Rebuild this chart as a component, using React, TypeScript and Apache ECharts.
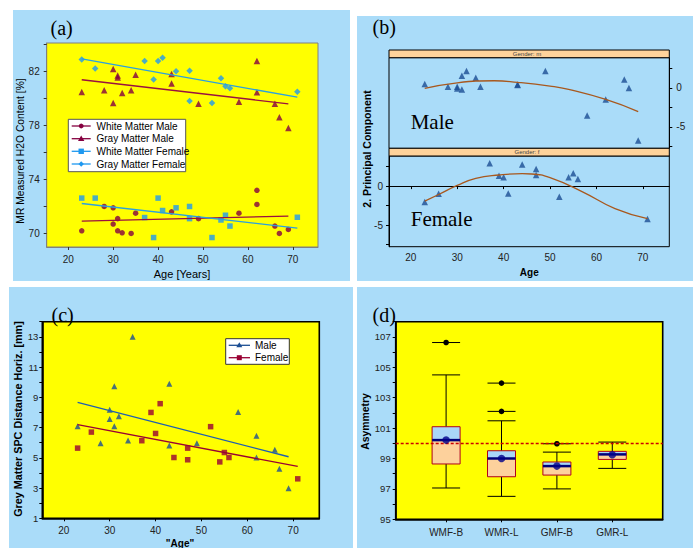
import React, { useEffect, useRef } from "react";
import * as echarts from "echarts";

// ---------- Panel (a): MR measured H2O content ----------
const wmMaleAge = [23, 28, 30, 30, 31, 31, 32, 34, 35, 43, 49, 58, 62, 62, 66, 67, 69];
const wmMaleVal = [70.2, 72.0, 71.9, 70.7, 71.1, 70.2, 70.05, 70.0, 71.5, 71.6, 71.1, 71.5, 73.2, 72.15, 70.55, 70.0, 70.3];
const gmMaleAge = [23, 28, 30, 30, 31, 31, 32, 34, 35, 43, 43, 49, 58, 62, 62, 66, 67, 69];
const gmMaleVal = [80.47, 80.6, 82.17, 79.65, 81.7, 81.55, 80.4, 80.6, 81.75, 81.8, 81.1, 79.6, 79.75, 82.77, 80.45, 79.6, 78.6, 77.8];
const wmFemaleAge = [23, 26, 37, 39, 40, 41, 44, 47, 47, 52, 54, 55, 56, 71];
const wmFemaleVal = [72.62, 72.62, 71.18, 69.7, 72.62, 71.7, 71.9, 72.0, 71.1, 69.7, 71.0, 71.35, 70.55, 71.2];
const gmFemaleAge = [23, 26, 37, 39, 40, 41, 44, 47, 47, 52, 54, 55, 56, 71];
const gmFemaleVal = [82.87, 82.22, 82.77, 81.4, 82.77, 83.0, 82.0, 82.05, 79.8, 79.65, 81.5, 80.9, 80.75, 80.5];
// regression lines (end points)
const wmMaleFitX = [23, 69];
const wmMaleFitY = [70.92, 71.29];
const gmMaleFitX = [23, 69];
const gmMaleFitY = [81.38, 79.6];
const wmFemaleFitX = [23, 71];
const wmFemaleFitY = [72.22, 70.4];
const gmFemaleFitX = [23, 71];
const gmFemaleFitY = [82.92, 80.09];
const aYLabels = [70, 74, 78, 82];
const aYTicks = [70, 72, 74, 76, 78, 80, 82, 84];
const ageTicks = [20, 30, 40, 50, 60, 70];
const aLegend = ["White Matter Male", "Gray Matter Male", "White Matter Female", "Gray Matter Female"];

// ---------- Panel (b): 2. principal component ----------
const pcMaleAge = [23, 28, 30, 30, 31, 31, 32, 34, 35, 43, 43, 49, 58, 62, 66, 67, 69];
const pcMaleVal = [0.47, 0.13, 0.13, -0.09, 1.55, -0.21, 2.15, 1.29, 0.13, 0.43, 0.34, 2.15, -3.56, -1.5, 1.07, -0.04, -6.74];
const pcFemaleAge = [23, 26, 37, 39, 40, 41, 44, 47, 47, 52, 54, 55, 56, 71];
const pcFemaleVal = [-2.02, -0.99, 2.92, 1.33, 1.12, -0.95, 2.75, 2.19, 1.42, -1.37, 1.12, 1.63, 0.9, -4.21];
const pcMaleCurveX = [23, 30, 38, 43, 50, 54, 62, 69];
const pcMaleCurveY = [-0.09, 0.64, 0.9, 0.69, 0.21, -0.21, -1.5, -3.05];
const pcFemaleCurveX = [23, 26, 30, 34, 39, 44, 46, 50, 57, 64, 71];
const pcFemaleCurveY = [-1.93, -1.07, 0.09, 0.99, 1.42, 1.59, 1.55, 1.07, -0.73, -2.88, -4.17];
const bYLabels = [-5, 0];
const bYTicks = [-7.5, -5, -2.5, 0, 2.5];
const bStrips = ["Gender: m", "Gender: f"];
const bFacetNames = ["Male", "Female"];

// ---------- Panel (c): grey matter SPC distance ----------
const spcMaleAge = [23, 28, 30, 30, 31, 31, 32, 34, 35, 43, 43, 49, 58, 62, 62, 66, 67, 69];
const spcMaleVal = [7.08, 5.97, 8.18, 7.56, 9.73, 7.08, 7.74, 6.15, 13.0, 9.9, 5.82, 5.97, 8.03, 6.46, 5.02, 5.53, 4.27, 2.99];
const spcFemaleAge = [23, 26, 37, 39, 40, 41, 44, 47, 47, 52, 54, 55, 56, 71];
const spcFemaleVal = [5.64, 6.7, 6.13, 8.0, 6.61, 8.58, 5.02, 5.64, 4.87, 7.06, 4.73, 5.35, 5.02, 3.61];
const spcMaleFitX = [23, 69];
const spcMaleFitY = [8.67, 5.07];
const spcFemaleFitX = [23, 71];
const spcFemaleFitY = [7.19, 4.43];
const cYLabels = [1, 3, 5, 7, 9, 11, 13];
const cYTicks = [1, 2, 3, 4, 5, 6, 7, 8, 9, 10, 11, 12, 13, 14];
const cLegend = ["Male", "Female"];

// ---------- Panel (d): asymmetry box plots ----------
const boxCats = ["WMF-B", "WMR-L", "GMF-B", "GMR-L"];
const whiskerLow = [97.06, 96.51, 97.0, 98.35];
const quart1 = [98.64, 97.8, 97.91, 98.94];
const medians = [100.21, 99.0, 98.5, 99.27];
const quart3 = [101.09, 99.51, 98.77, 99.47];
const whiskerHigh = [104.5, 101.48, 99.42, 100.08];
const means = [100.21, 99.0, 98.5, 99.25];
const outlierCat = [0, 1, 1, 2];
const outlierVal = [106.63, 103.96, 102.1, 99.97];
const refValue = 100;
const dYLabels = [95, 97, 99, 101, 103, 105, 107];
const dYTicks = [95, 96, 97, 98, 99, 100, 101, 102, 103, 104, 105, 106, 107, 108];

const SANS = "Liberation Sans, Arial, sans-serif";
const SERIF = "Liberation Serif, Times New Roman, serif";
const PANEL_BG = "#aadcf9";
const MAROON = "#850040";
const LBLUE = "#1e98f0";
const NAVY = "#1c4e93";

const zip = (xs: number[], ys: number[]) => xs.map((x, i) => [x, ys[i]]);

function marker(kind: string, cx: number, cy: number, color: string, s = 3) {
  if (kind === "circle") return { type: "circle", shape: { cx, cy, r: s - 0.3 }, style: { fill: color }, z: 101 };
  if (kind === "rect") return { type: "rect", shape: { x: cx - s, y: cy - s, width: 2 * s, height: 2 * s }, style: { fill: color }, z: 101 };
  if (kind === "triangle")
    return { type: "polygon", shape: { points: [[cx, cy - s - 0.5], [cx - s - 0.5, cy + s - 0.5], [cx + s + 0.5, cy + s - 0.5]] }, style: { fill: color }, z: 101 };
  return { type: "polygon", shape: { points: [[cx, cy - s], [cx + s, cy], [cx, cy + s], [cx - s, cy]] }, style: { fill: color }, z: 101 };
}

function txt(text: string, x: number, y: number, size: number, opts: any = {}) {
  return {
    type: "text",
    x,
    y,
    rotation: opts.rotation || 0,
    z: 100,
    style: {
      text,
      fontSize: size,
      fontFamily: opts.family || SANS,
      fontWeight: opts.weight || "normal",
      fill: opts.color || "#000",
      align: opts.align || "center",
      verticalAlign: "middle",
    },
  };
}

function valueAxis(gridIndex: number, min: number, max: number, labels: number[], ticks: number[], extra: any = {}) {
  return {
    type: "value",
    gridIndex,
    min,
    max,
    splitLine: { show: false },
    axisLine: { show: true, lineStyle: { color: extra.lineColor || "#000", width: extra.lineWidth || 1 } },
    axisTick: { show: true, customValues: ticks, length: extra.tickLen || 3, lineStyle: { color: extra.tickColor || "#000" } },
    axisLabel: {
      show: true,
      customValues: labels,
      fontSize: extra.fontSize || 10,
      fontFamily: SANS,
      color: "#222",
      margin: extra.margin || 5,
      formatter: extra.formatter,
    },
    position: extra.position,
    show: extra.show === undefined ? true : extra.show,
  };
}

function buildOption() {
  const legendA: any[] = [
    { type: "rect", shape: { x: 68.3, y: 119.3, width: 117.4, height: 52.4 }, style: { fill: "#fff", stroke: "#555", lineWidth: 1 }, z: 99 },
  ];
  const aKinds = ["circle", "triangle", "rect", "diamond"];
  const aColors = [MAROON, MAROON, LBLUE, LBLUE];
  const aRows = [126, 138.7, 151.3, 164];
  aLegend.forEach((name, i) => {
    legendA.push({ type: "line", shape: { x1: 71.7, y1: aRows[i], x2: 90.7, y2: aRows[i] }, style: { stroke: aColors[i], lineWidth: 1.3 }, z: 100 });
    legendA.push(marker(aKinds[i], 81.2, aRows[i], aColors[i], 2.7));
    legendA.push(txt(name, 96.5, aRows[i], 10, { align: "left" }));
  });

  const legendC: any[] = [
    { type: "rect", shape: { x: 225.7, y: 338.7, width: 63.6, height: 25.6 }, style: { fill: "#fff", stroke: "#333", lineWidth: 1 }, z: 99 },
  ];
  const cRows = [345.3, 357.7];
  const cColors = [NAVY, "#990033"];
  const cKinds = ["triangle", "rect"];
  cLegend.forEach((name, i) => {
    legendC.push({ type: "line", shape: { x1: 228.7, y1: cRows[i], x2: 250, y2: cRows[i] }, style: { stroke: cColors[i], lineWidth: 1.3 }, z: 100 });
    legendC.push(marker(cKinds[i], 239.3, cRows[i], cColors[i], 2.5));
    legendC.push(txt(name, 255, cRows[i], 10, { align: "left" }));
  });

  const graphic: any[] = [
    { type: "rect", shape: { x: 13, y: 10, width: 337, height: 271 }, style: { fill: PANEL_BG }, z: -10 },
    { type: "rect", shape: { x: 357, y: 16, width: 336, height: 265 }, style: { fill: PANEL_BG }, z: -10 },
    { type: "rect", shape: { x: 9, y: 287, width: 344, height: 261 }, style: { fill: PANEL_BG }, z: -10 },
    { type: "rect", shape: { x: 357, y: 287, width: 336, height: 261 }, style: { fill: PANEL_BG }, z: -10 },
    // panel letters
    txt("(a)", 50.5, 28, 20, { family: SERIF, align: "left" }),
    txt("(b)", 372.5, 27, 20, { family: SERIF, align: "left" }),
    txt("(c)", 51.5, 315, 20, { family: SERIF, align: "left" }),
    txt("(d)", 372.5, 315, 20, { family: SERIF, align: "left" }),
    // axis titles
    txt("MR Measured H2O Content [%]", 20, 151, 10.3, { rotation: Math.PI / 2 }),
    txt("Age [Years]", 182, 274, 11),
    txt("2. Principal Component", 366.5, 149, 10.5, { rotation: Math.PI / 2, weight: "bold" }),
    txt("Age", 529.3, 272.7, 10, { weight: "bold" }),
    txt("Grey Matter SPC Distance Horiz. [mm]", 17.5, 419, 10.8, { rotation: Math.PI / 2, weight: "bold" }),
    txt('"Age"', 180, 543.5, 10, { weight: "bold" }),
    txt("Asymmetry", 365, 421.5, 10.4, { rotation: Math.PI / 2, weight: "bold" }),
    // strips in (b)
    { type: "rect", shape: { x: 389, y: 50, width: 280.3, height: 7.7 }, style: { fill: "#ffd39b", stroke: "#000", lineWidth: 1 }, z: 50 },
    { type: "rect", shape: { x: 389, y: 148.3, width: 280.3, height: 7.7 }, style: { fill: "#ffd39b", stroke: "#000", lineWidth: 1 }, z: 50 },
    txt(bStrips[0], 527, 54, 6, { color: "#444" }),
    txt(bStrips[1], 527, 152.3, 6, { color: "#444" }),
    txt(bFacetNames[0], 410.7, 122.3, 21, { family: SERIF, align: "left" }),
    txt(bFacetNames[1], 410.7, 218.7, 21, { family: SERIF, align: "left" }),
    ...legendA,
    ...legendC,
  ];

  const grids = [
    { left: 46.7, top: 43, width: 271.3, height: 204, show: true, backgroundColor: "#ffff00", borderColor: "#808080", borderWidth: 1 },
    { left: 389, top: 57.7, width: 280.3, height: 90.6, show: true, backgroundColor: "transparent", borderColor: "#000", borderWidth: 1 },
    { left: 389, top: 156, width: 280.3, height: 90.7, show: true, backgroundColor: "transparent", borderColor: "#000", borderWidth: 1 },
    { left: 42.3, top: 321.7, width: 277, height: 196.6, show: true, backgroundColor: "#ffff00", borderColor: "#000", borderWidth: 1.6 },
    { left: 395.7, top: 321.7, width: 267, height: 197.6, show: true, backgroundColor: "#ffff00", borderColor: "#000", borderWidth: 1.6 },
  ].map((g) => ({ ...g, containLabel: false, outerBoundsMode: "none" }));

  const xAxis = [
    valueAxis(0, 15.2, 75.6, ageTicks, ageTicks, { lineColor: "#808080", tickColor: "#333", margin: 7 }),
    valueAxis(1, 15.3, 75.7, ageTicks, ageTicks, { show: false }),
    valueAxis(2, 15.3, 75.7, ageTicks, ageTicks, { margin: 6 }),
    valueAxis(3, 15.3, 75.7, ageTicks, ageTicks, { margin: 7, lineWidth: 1.6 }),
    valueAxis(4, 0.09, 4.91, [1, 2, 3, 4], [1, 2, 3, 4], {
      margin: 8,
      lineWidth: 1.6,
      formatter: (v: number) => boxCats[Math.round(v) - 1] || "",
    }),
  ];
  const yAxis = [
    valueAxis(0, 69, 84.1, aYLabels, aYTicks, { lineColor: "#808080", tickColor: "#333", margin: 7 }),
    valueAxis(1, -7.75, 3.85, bYLabels, bYTicks, { position: "right", margin: 7 }),
    valueAxis(2, -7.75, 3.85, bYLabels, bYTicks, { position: "left", margin: 6 }),
    valueAxis(3, 1, 14, cYLabels, cYTicks, { fontSize: 9.5, margin: 4, lineWidth: 1.6 }),
    valueAxis(4, 95, 108, dYLabels, dYTicks, { fontSize: 9.5, margin: 5, lineWidth: 1.6 }),
  ];

  const scatter = (name: string, xi: number, data: number[][], symbol: string, color: string, size: number) => ({
    name,
    type: "scatter",
    xAxisIndex: xi,
    yAxisIndex: xi,
    data,
    symbol,
    symbolSize: size,
    itemStyle: { color },
    z: 3,
  });
  const fit = (name: string, xi: number, data: number[][], color: string, smooth = false) => ({
    name,
    type: "line",
    xAxisIndex: xi,
    yAxisIndex: xi,
    data,
    smooth,
    showSymbol: false,
    symbol: "none",
    lineStyle: { color, width: 1.3 },
    z: 4,
  });

  const boxData = boxCats.map((_, i) => [i + 1, whiskerLow[i], quart1[i], medians[i], quart3[i], whiskerHigh[i]]);
  const hw = 14;

  const series: any[] = [
    // (a)
    fit("White Matter Male fit", 0, zip(wmMaleFitX, wmMaleFitY), "#9a1040"),
    fit("Gray Matter Male fit", 0, zip(gmMaleFitX, gmMaleFitY), "#9a1040"),
    fit("White Matter Female fit", 0, zip(wmFemaleFitX, wmFemaleFitY), "#2aa0e0"),
    fit("Gray Matter Female fit", 0, zip(gmFemaleFitX, gmFemaleFitY), "#2aa0e0"),
    scatter("White Matter Male", 0, zip(wmMaleAge, wmMaleVal), "circle", MAROON, 5.5),
    scatter("Gray Matter Male", 0, zip(gmMaleAge, gmMaleVal), "triangle", MAROON, 6.5),
    scatter("White Matter Female", 0, zip(wmFemaleAge, wmFemaleVal), "rect", LBLUE, 5.5),
    scatter("Gray Matter Female", 0, zip(gmFemaleAge, gmFemaleVal), "diamond", LBLUE, 6.5),
    // (b)
    fit("Male curve", 1, zip(pcMaleCurveX, pcMaleCurveY), "#a8581e", true),
    fit("Female curve", 2, zip(pcFemaleCurveX, pcFemaleCurveY), "#a8581e", true),
    scatter("PC Male", 1, zip(pcMaleAge, pcMaleVal), "triangle", NAVY, 6.5),
    scatter("PC Female", 2, zip(pcFemaleAge, pcFemaleVal), "triangle", NAVY, 6.5),
    // (c)
    fit("Male fit", 3, zip(spcMaleFitX, spcMaleFitY), "#1f5fb0"),
    fit("Female fit", 3, zip(spcFemaleFitX, spcFemaleFitY), "#990033"),
    scatter("Male", 3, zip(spcMaleAge, spcMaleVal), "triangle", NAVY, 6),
    scatter("Female", 3, zip(spcFemaleAge, spcFemaleVal), "rect", "#990033", 5.5),
    // (d)
    {
      name: "boxes",
      type: "custom",
      xAxisIndex: 4,
      yAxisIndex: 4,
      data: boxData,
      z: 3,
      renderItem: (_p: any, api: any) => {
        const x = api.value(0);
        const lo = api.coord([x, api.value(1)]);
        const q1 = api.coord([x, api.value(2)]);
        const md = api.coord([x, api.value(3)]);
        const q3 = api.coord([x, api.value(4)]);
        const hi = api.coord([x, api.value(5)]);
        const cx = lo[0];
        const ln = (x1: number, y1: number, x2: number, y2: number, stroke: string, w: number) => ({
          type: "line",
          shape: { x1, y1, x2, y2 },
          style: { stroke, lineWidth: w },
        });
        return {
          type: "group",
          children: [
            ln(cx, hi[1], cx, q3[1], "#000", 1),
            ln(cx, q1[1], cx, lo[1], "#000", 1),
            ln(cx - hw, hi[1], cx + hw, hi[1], "#000", 1),
            ln(cx - hw, lo[1], cx + hw, lo[1], "#000", 1),
            { type: "rect", shape: { x: cx - hw, y: md[1], width: 2 * hw, height: q1[1] - md[1] }, style: { fill: "#fdd19c" } },
            { type: "rect", shape: { x: cx - hw, y: q3[1], width: 2 * hw, height: md[1] - q3[1] }, style: { fill: "#a9d6f7" } },
            { type: "rect", shape: { x: cx - hw, y: q3[1], width: 2 * hw, height: q1[1] - q3[1] }, style: { fill: "none", stroke: "#b0001a", lineWidth: 1 } },
            ln(cx - hw, md[1], cx + hw, md[1], "#00007a", 2.5),
          ],
        };
      },
    },
    {
      name: "outliers",
      type: "custom",
      xAxisIndex: 4,
      yAxisIndex: 4,
      data: outlierCat.map((c, i) => [c + 1, outlierVal[i]]),
      z: 4,
      renderItem: (_p: any, api: any) => {
        const p = api.coord([api.value(0), api.value(1)]);
        return {
          type: "group",
          children: [
            { type: "line", shape: { x1: p[0] - hw, y1: p[1], x2: p[0] + hw, y2: p[1] }, style: { stroke: "#000", lineWidth: 1 } },
            { type: "circle", shape: { cx: p[0], cy: p[1], r: 2.8 }, style: { fill: "#000" } },
          ],
        };
      },
    },
    {
      name: "means",
      type: "scatter",
      xAxisIndex: 4,
      yAxisIndex: 4,
      data: means.map((m, i) => [i + 1, m]),
      symbol: "circle",
      symbolSize: 7.5,
      itemStyle: { color: "#00008b" },
      z: 6,
      markLine: {
        silent: true,
        symbol: "none",
        label: { show: false },
        lineStyle: { color: "#cc0000", type: [3, 2], width: 1.3, opacity: 1 },
        data: [{ yAxis: refValue }],
      },
    },
  ];

  return { animation: false, backgroundColor: "#ffffff", grid: grids, xAxis, yAxis, series, graphic };
}

export default function App() {
  const ref = useRef<HTMLDivElement>(null);
  useEffect(() => {
    document.body.style.margin = "0";
    const chart = echarts.init(ref.current as HTMLDivElement, null, { renderer: "svg", width: 693, height: 548 });
    chart.setOption(buildOption() as any);
    return () => chart.dispose();
  }, []);
  return <div ref={ref} style={{ width: 693, height: 548, background: "#fff" }} />;
}
